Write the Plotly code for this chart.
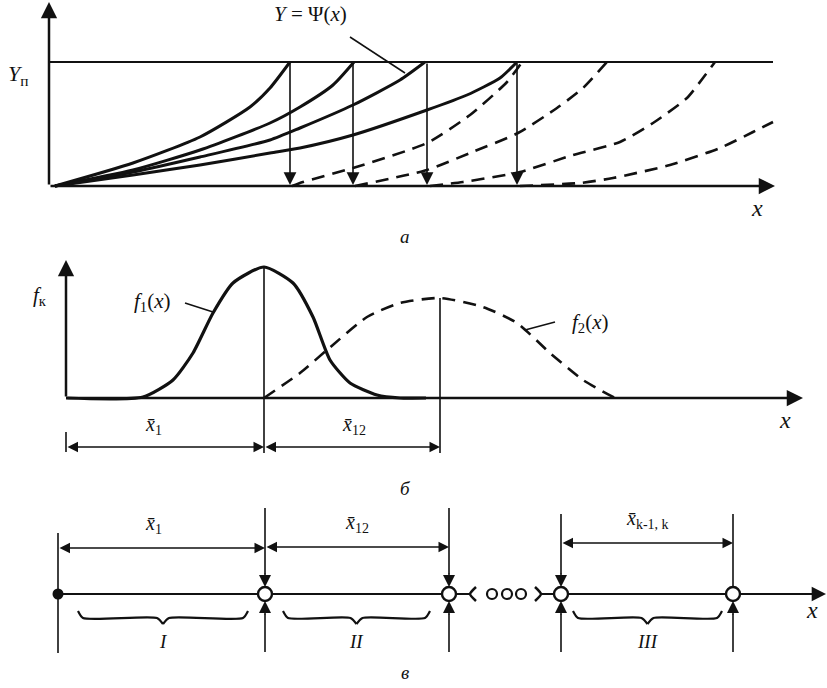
import plotly.graph_objects as go

# ---------------- panel "а": Y = Psi(x) growth curves (units: image px from axis origin) -------------
Y_LIMIT = 124          # level Y_п
A_X_END = 726          # x-axis arrow tip
A_Y_END = 184          # y-axis arrow tip
A_TOP_END = 724        # end of Y_п line

SOLID_X = [
    [6, 84, 151, 201, 221, 241],
    [6, 84, 151, 221, 251, 284, 305],
    [6, 84, 151, 221, 251, 304, 351, 376],
    [6, 84, 151, 221, 251, 304, 378, 418, 451, 468],
]
SOLID_Y = [
    [0, 23, 49, 79, 98, 124],
    [0, 16, 36, 63, 79, 101, 124],
    [0, 14, 29, 46, 58, 81, 106, 124],
    [0, 11, 21, 33, 38, 51, 76, 91, 108, 124],
]
DASH_X = [
    [243, 254, 304, 378, 421, 458, 473],
    [306, 378, 421, 469, 508, 534, 558],
    [381, 414, 471, 524, 571, 604, 638, 654, 666],
    [471, 531, 564, 621, 671, 704, 724],
]
DASH_Y = [
    [0, 4, 18, 43, 71, 104, 124],
    [0, 16, 33, 53, 78, 98, 124],
    [0, 4, 14, 31, 44, 63, 88, 108, 124],
    [0, 3, 8, 21, 38, 54, 64],
]
RESET_X = [241, 304, 378, 468]   # vertical drop arrows

# ---------------- panel "б": distributions f1, f2 -------------
B_X_END = 737
B_Y_END = 138
F1_X = [0, 77, 107, 127, 147, 167, 198, 227, 247, 264, 284, 311, 334, 360]
F1_Y = [0, 1, 18, 45, 85, 115, 131, 115, 81, 38, 15, 3, 0, 0]
F2_X = [198, 234, 261, 301, 334, 374, 417, 451, 484, 517, 549]
F2_Y = [0, 25, 48, 81, 95, 100, 91, 75, 45, 18, 0]
F1_PEAK = (198, 131)
F2_PEAK = (374, 100)

# ---------------- panel "в": segments on the x axis -------------
C_X_END = 768
NODES = [207, 391, 503, 675]
BREAK_L = 412
BREAK_R = 483
DOTS_X = [434, 449, 463]
DIMS = [(0, 207, 46, "<i>x̄</i><sub>1</sub>"),
        (207, 391, 47, "<i>x̄</i><sub>12</sub>"),
        (503, 675, 51, "<i>x̄</i><sub>k-1, k</sub>")]
BRACES = [(20, 190, "I"), (225, 372, "II"), (515, 664, "III")]

BLACK = "#111111"
SERIF = "Liberation Serif"

fig = go.Figure()
ann = []


def line(xs, ys, ax="", width=2.5, dash=None, shape="spline"):
    fig.add_trace(go.Scatter(
        x=xs, y=ys, mode="lines", xaxis="x" + ax, yaxis="y" + ax,
        line=dict(color=BLACK, width=width, dash=dash, shape=shape, smoothing=0.6),
        hoverinfo="skip", showlegend=False))


def arrow(x0, y0, x1, y1, ax="", width=2.0, both=False, size=1.3, head=2):
    d = dict(x=x1, y=y1, ax=x0, ay=y0, xref="x" + ax, yref="y" + ax,
             axref="x" + ax, ayref="y" + ax, showarrow=True, text="",
             arrowhead=head, arrowsize=size, arrowwidth=width, arrowcolor=BLACK,
             standoff=0, startstandoff=0)
    if both:
        d.update(arrowside="end+start", startarrowhead=head, startarrowsize=size)
    ann.append(d)


def label(x, y, text, ax="", size=20, italic=True):
    ann.append(dict(x=x, y=y, xref="x" + ax, yref="y" + ax, showarrow=False,
                    text=("<i>%s</i>" % text) if italic else text,
                    font=dict(family=SERIF, size=size, color=BLACK)))


# ===== panel а =====
arrow(0, 0, 0, A_Y_END, width=2.5)
arrow(0, 0, A_X_END, 0, width=2.5)
line([0, A_TOP_END], [Y_LIMIT, Y_LIMIT], width=2.2, shape="linear")
for xs, ys in zip(SOLID_X, SOLID_Y):
    line(xs, ys, width=3)
for xs, ys in zip(DASH_X, DASH_Y):
    line(xs, ys, width=2.6, dash="13px,8px")
for xr in RESET_X:
    arrow(xr, Y_LIMIT, xr, 1, width=1.6, size=1.6)
line([301, 356], [149, 113], width=1.5, shape="linear")
label(261, 172, "<i>Y</i> = Ψ(<i>x</i>)", italic=False, size=21)
label(-31, 111, "<i>Y</i><sub>п</sub>", italic=False, size=22)
label(708, -22, "x", size=24)
label(356, -50, "а", size=19)

# ===== panel б =====
arrow(0, 0, 0, B_Y_END, ax="2", width=2.5)
arrow(0, 0, B_X_END, 0, ax="2", width=2.5)
line(F1_X, F1_Y, ax="2", width=3.2)
line(F2_X, F2_Y, ax="2", width=2.6, dash="13px,8px")
line([F1_PEAK[0], F1_PEAK[0]], [F1_PEAK[1], -55], ax="2", width=1.6, shape="linear")
line([F2_PEAK[0], F2_PEAK[0]], [F2_PEAK[1], -55], ax="2", width=1.6, shape="linear")
line([0, 0], [-34, -54], ax="2", width=1.6, shape="linear")
arrow(0, -49, F1_PEAK[0], -49, ax="2", width=1.5, both=True, size=1.4)
arrow(F1_PEAK[0], -49, F2_PEAK[0], -49, ax="2", width=1.5, both=True, size=1.4)
label(87, -27, "<i>x̄</i><sub>1</sub>", ax="2", italic=False)
label(288, -27, "<i>x̄</i><sub>12</sub>", ax="2", italic=False)
label(-26, 102, "<i>f</i><sub>к</sub>", ax="2", italic=False, size=21)
label(86, 96, "<i>f</i><sub>1</sub>(<i>x</i>)", ax="2", italic=False, size=21)
line([119, 147], [95, 86], ax="2", width=1.5, shape="linear")
label(524, 75, "<i>f</i><sub>2</sub>(<i>x</i>)", ax="2", italic=False, size=21)
line([459, 489], [68, 76], ax="2", width=1.5, shape="linear")
label(719, -22, "x", ax="2", size=24)
label(339, -90, "б", ax="2", size=19)

# ===== panel в =====
line([0, BREAK_L], [0, 0], ax="3", width=2.2, shape="linear")
line([BREAK_R, C_X_END - 20], [0, 0], ax="3", width=2.2, shape="linear")
arrow(C_X_END - 22, 0, C_X_END, 0, ax="3", width=2.2)
# break marks
line([BREAK_L + 6, BREAK_L, BREAK_L + 6], [7, 0, -7], ax="3", width=2.5)
line([BREAK_R - 6, BREAK_R, BREAK_R - 6], [7, 0, -7], ax="3", width=2.5)
fig.add_trace(go.Scatter(x=DOTS_X, y=[0] * len(DOTS_X), mode="markers", xaxis="x3", yaxis="y3",
                         marker=dict(symbol="circle-open", size=10, color=BLACK, line=dict(width=2.2)),
                         hoverinfo="skip", showlegend=False))
# verticals
line([0, 0], [61, -59], ax="3", width=1.6, shape="linear")
for i, xn in enumerate(NODES):
    top = 86 if i < 2 else 80
    if i < 3:
        line([xn, xn], [top, 20], ax="3", width=1.6, shape="linear")
        arrow(xn, 22, xn, 7, ax="3", width=1.6, size=1.5)
    else:
        line([xn, xn], [top, 7], ax="3", width=1.6, shape="linear")
    line([xn, xn], [-58, -20], ax="3", width=1.6, shape="linear")
    arrow(xn, -22, xn, -7, ax="3", width=1.6, size=1.5)
fig.add_trace(go.Scatter(x=[0], y=[0], mode="markers", xaxis="x3", yaxis="y3",
                         marker=dict(symbol="circle", size=11, color=BLACK),
                         hoverinfo="skip", showlegend=False))
fig.add_trace(go.Scatter(x=NODES, y=[0] * len(NODES), mode="markers", xaxis="x3", yaxis="y3",
                         marker=dict(symbol="circle", size=14, color="white", line=dict(width=2.4, color=BLACK)),
                         hoverinfo="skip", showlegend=False))
for x0, x1, yd, txt in DIMS:
    arrow(x0, yd, x1, yd, ax="3", width=1.5, both=True, size=1.4)
    label((x0 + x1) / 2 - 8 if x0 == 0 else (x0 + x1) / 2, yd + 24, txt, ax="3", italic=False)
for b0, b1, txt in BRACES:
    m = (b0 + b1) / 2
    line([b0, b0 + 5, m - 6, m], [-17, -24, -24, -30], ax="3", width=2.2)
    line([m, m + 6, b1 - 5, b1], [-30, -24, -24, -17], ax="3", width=2.2)
    label(m, -47, txt, ax="3", size=19)
label(754, -16, "x", ax="3", size=24)
label(347, -78, "в", ax="3", size=19)

ax_common = dict(visible=False, showgrid=False, zeroline=False, domain=[0, 1], fixedrange=True)
fig.update_layout(
    width=827, height=688, margin=dict(l=0, r=0, t=0, b=0),
    paper_bgcolor="white", plot_bgcolor="rgba(0,0,0,0)", showlegend=False,
    xaxis=dict(range=[-49, 778], anchor="y", **ax_common),
    yaxis=dict(range=[-502, 186], anchor="x", **ax_common),
    xaxis2=dict(range=[-66, 761], anchor="y2", **ax_common),
    yaxis2=dict(range=[-290, 398], anchor="x2", **ax_common),
    xaxis3=dict(range=[-58, 769], anchor="y3", **ax_common),
    yaxis3=dict(range=[-94, 594], anchor="x3", **ax_common),
    annotations=ann,
)
fig.write_html("out.html", config={"displayModeBar": False},
               post_script="document.body.style.margin='0';document.body.style.overflow='hidden';")
